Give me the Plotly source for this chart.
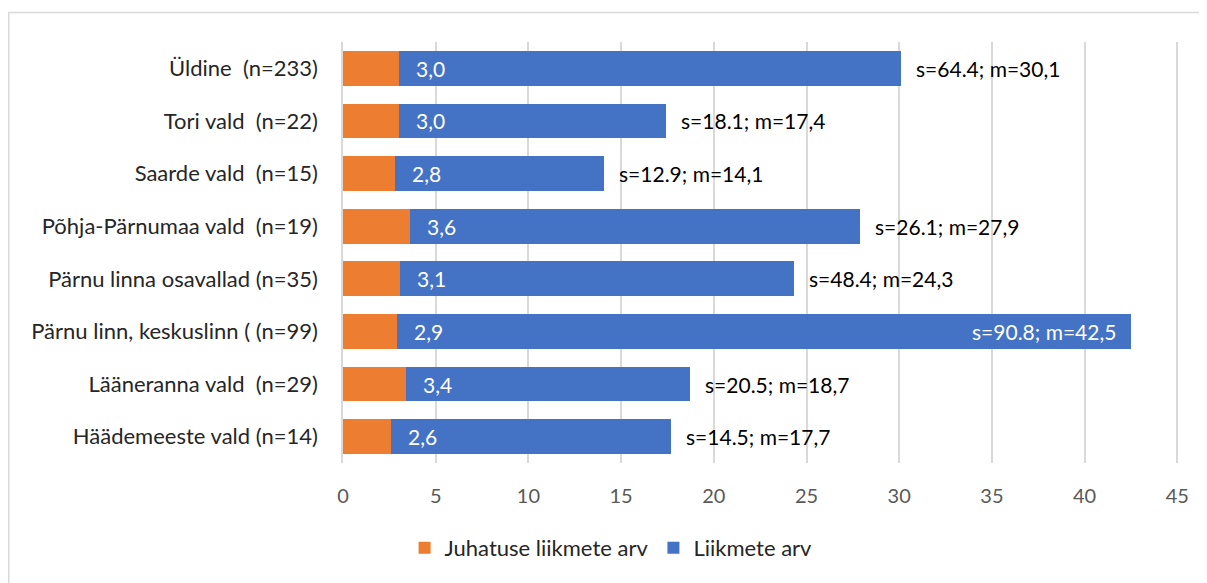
import plotly.graph_objects as go

categories = [
    "Üldine  (n=233)",
    "Tori vald  (n=22)",
    "Saarde vald  (n=15)",
    "Põhja-Pärnumaa vald  (n=19)",
    "Pärnu linna osavallad (n=35)",
    "Pärnu linn, keskuslinn ( (n=99)",
    "Lääneranna vald  (n=29)",
    "Häädemeeste vald (n=14)",
]
juhatus = [3.0, 3.0, 2.8, 3.6, 3.1, 2.9, 3.4, 2.6]   # Juhatuse liikmete arv
m_total = [30.1, 17.4, 14.1, 27.9, 24.3, 42.5, 18.7, 17.7]  # mean members (bar end)
s_vals = [64.4, 18.1, 12.9, 26.1, 48.4, 90.8, 20.5, 14.5]
inside_end = [False, False, False, False, False, True, False, False]
tick_vals = [0, 5, 10, 15, 20, 25, 30, 35, 40, 45]

liikmed = [round(t - j, 2) for t, j in zip(m_total, juhatus)]

FONT = "Lato"
ORANGE = "#ED7D31"
BLUE = "#4472C4"

# page has an 8px body margin; figure coordinates = page - 8
W, H = 1199, 575
L, R, T, B = 335, 26, 34, 120
PW, PH = W - L - R, H - T - B

fig = go.Figure()
fig.add_trace(go.Bar(
    y=categories, x=juhatus, orientation="h", name="Juhatuse liikmete arv",
    marker=dict(color=ORANGE, line=dict(width=0)), hoverinfo="x+y",
))
fig.add_trace(go.Bar(
    y=categories, x=liikmed, orientation="h", name="Liikmete arv",
    marker=dict(color=BLUE, line=dict(width=0)), hoverinfo="x+y",
))

annotations = []
for c, j, t, s, ie in zip(categories, juhatus, m_total, s_vals, inside_end):
    annotations.append(dict(
        x=j, y=c, xref="x", yref="y", text=f"{j:.1f}".replace(".", ","),
        showarrow=False, xanchor="left", xshift=15,
        font=dict(family=FONT, size=21, color="white"),
    ))
    lab = f"s={s}; m=" + f"{t:.1f}".replace(".", ",")
    if ie:
        annotations.append(dict(
            x=t, y=c, xref="x", yref="y", text=lab, showarrow=False,
            xanchor="right", xshift=-13,
            font=dict(family=FONT, size=21, color="white"),
        ))
    else:
        annotations.append(dict(
            x=t, y=c, xref="x", yref="y", text=lab, showarrow=False,
            xanchor="left", xshift=13,
            font=dict(family=FONT, size=21, color="black"),
        ))

fig.update_layout(
    barmode="stack",
    bargap=0.34,
    width=W, height=H,
    margin=dict(l=L, r=R, t=T, b=B),
    paper_bgcolor="white", plot_bgcolor="white",
    font=dict(family=FONT, size=20, color="#262626"),
    annotations=annotations,
    showlegend=True,
    legend=dict(
        orientation="h", xref="container", yref="container",
        x=0.503, xanchor="center", y=0.061, yanchor="middle",
        font=dict(family=FONT, size=22, color="#262626"),
        traceorder="normal", itemwidth=30,
    ),
    shapes=[dict(
        type="rect", xref="paper", yref="paper",
        x0=(0.8 - L) / PW, x1=(W + 30 - L) / PW,
        y0=(T + PH - (H + 30)) / PH, y1=(T + PH - 4.5) / PH,
        line=dict(color="#D9D9D9", width=1.5), fillcolor="rgba(0,0,0,0)", layer="below",
    )],
)
fig.update_xaxes(
    range=[0, 45.2], tickvals=tick_vals, ticktext=[str(v) for v in tick_vals],
    showgrid=True, gridcolor="#D9D9D9", gridwidth=1.5,
    zeroline=False, showline=False,
    tickfont=dict(family=FONT, size=20, color="#595959"),
    ticklabelstandoff=19,
)
fig.update_yaxes(
    autorange="reversed", showgrid=False, showline=True, linecolor="#D9D9D9", linewidth=1.5,
    ticks="", ticklabelstandoff=19,
    tickfont=dict(family=FONT, size=22, color="#262626"),
)

fig.write_html("out.html")
